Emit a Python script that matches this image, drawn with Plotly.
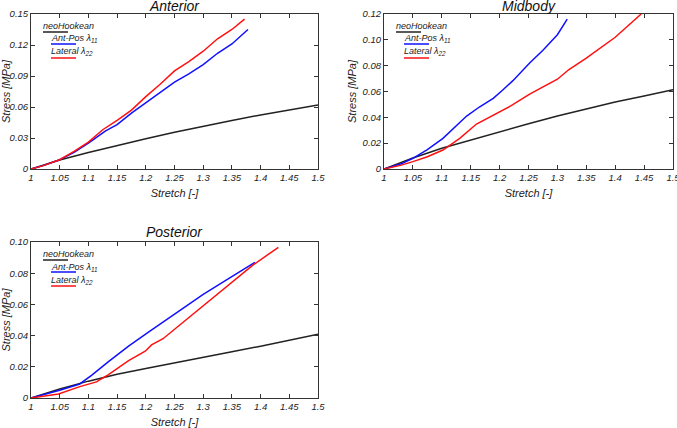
import plotly.graph_objects as go

# ---------------- data ----------------
# Anterior
ant_nh_x = [1.0, 1.05, 1.1, 1.15, 1.2, 1.25, 1.3, 1.35, 1.4, 1.45, 1.5]
ant_nh_y = [0.0, 0.0087, 0.016, 0.023, 0.0293, 0.0355, 0.0415, 0.047, 0.0523, 0.0573, 0.062]
ant_ap_x = [1.0, 1.02, 1.04, 1.05, 1.075, 1.1, 1.13, 1.15, 1.175, 1.2, 1.225, 1.25, 1.275, 1.3, 1.325, 1.35, 1.378]
ant_ap_y = [0.0, 0.003, 0.007, 0.009, 0.016, 0.025, 0.037, 0.043, 0.054, 0.064, 0.074, 0.084, 0.092, 0.101, 0.112, 0.121, 0.135]
ant_lat_x = [1.0, 1.02, 1.04, 1.05, 1.075, 1.1, 1.125, 1.15, 1.175, 1.2, 1.225, 1.25, 1.275, 1.3, 1.325, 1.35, 1.372]
ant_lat_y = [0.0, 0.003, 0.007, 0.009, 0.017, 0.026, 0.038, 0.047, 0.057, 0.07, 0.082, 0.095, 0.104, 0.114, 0.126, 0.135, 0.145]

# Midbody
mid_nh_x = [1.0, 1.05, 1.1, 1.15, 1.2, 1.25, 1.3, 1.35, 1.4, 1.45, 1.5]
mid_nh_y = [0.0, 0.0085, 0.016, 0.0225, 0.029, 0.035, 0.041, 0.0465, 0.0518, 0.0565, 0.0613]
mid_ap_x = [1.0, 1.03, 1.05, 1.075, 1.102, 1.125, 1.143, 1.165, 1.189, 1.205, 1.223, 1.252, 1.275, 1.3, 1.317]
mid_ap_y = [0.0, 0.004, 0.0083, 0.015, 0.0237, 0.033, 0.041, 0.048, 0.0547, 0.061, 0.0684, 0.082, 0.092, 0.104, 0.116]
mid_lat_x = [1.0, 1.03, 1.05, 1.075, 1.102, 1.131, 1.16, 1.189, 1.22, 1.252, 1.3, 1.32, 1.35, 1.4, 1.445]
mid_lat_y = [0.0, 0.003, 0.0057, 0.0095, 0.0147, 0.0237, 0.0348, 0.0418, 0.049, 0.058, 0.0695, 0.077, 0.0858, 0.102, 0.12]

# Posterior
pos_nh_x = [1.0, 1.05, 1.1, 1.15, 1.2, 1.25, 1.3, 1.35, 1.4, 1.45, 1.5]
pos_nh_y = [0.0, 0.0058, 0.0108, 0.0152, 0.0189, 0.0226, 0.0262, 0.0297, 0.0332, 0.0368, 0.0408]
pos_ap_x = [1.0, 1.05, 1.085, 1.106, 1.135, 1.17, 1.204, 1.251, 1.265, 1.3, 1.347, 1.39]
pos_ap_y = [0.0, 0.005, 0.009, 0.0147, 0.0233, 0.0333, 0.042, 0.054, 0.0575, 0.0665, 0.0771, 0.087]
pos_lat_x = [1.0, 1.048, 1.085, 1.114, 1.135, 1.17, 1.199, 1.21, 1.23, 1.259, 1.3, 1.347, 1.387, 1.431]
pos_lat_y = [0.0, 0.0026, 0.0073, 0.0103, 0.015, 0.024, 0.030, 0.034, 0.038, 0.0468, 0.059, 0.0735, 0.0853, 0.0966]

x_ticks = [1.0, 1.05, 1.1, 1.15, 1.2, 1.25, 1.3, 1.35, 1.4, 1.45, 1.5]
x_ticklabels = ["1", "1.05", "1.1", "1.15", "1.2", "1.25", "1.3", "1.35", "1.4", "1.45", "1.5"]
ant_yticks = [0, 0.03, 0.06, 0.09, 0.12, 0.15]
ant_yticklabels = ["0", "0.03", "0.06", "0.09", "0.12", "0.15"]
mid_yticks = [0, 0.02, 0.04, 0.06, 0.08, 0.10, 0.12]
mid_yticklabels = ["0", "0.02", "0.04", "0.06", "0.08", "0.10", "0.12"]
pos_yticks = [0, 0.02, 0.04, 0.06, 0.08, 0.10]
pos_yticklabels = ["0", "0.02", "0.04", "0.06", "0.08", "0.10"]

titles = ["Anterior", "Midbody", "Posterior"]
legend_labels = ["neoHookean", "Ant-Pos λ<sub>11</sub>", "Lateral λ<sub>22</sub>"]
colors = ["#222222", "#1010ff", "#ff1010"]

panels = [
    (titles[0], (ant_nh_x, ant_nh_y), (ant_ap_x, ant_ap_y), (ant_lat_x, ant_lat_y), ant_yticks, ant_yticklabels, 0.15),
    (titles[1], (mid_nh_x, mid_nh_y), (mid_ap_x, mid_ap_y), (mid_lat_x, mid_lat_y), mid_yticks, mid_yticklabels, 0.12),
    (titles[2], (pos_nh_x, pos_nh_y), (pos_ap_x, pos_ap_y), (pos_lat_x, pos_lat_y), pos_yticks, pos_yticklabels, 0.10),
]

W, H = 677, 428
# plot area pixel boxes (left, right, top, bottom) and title offset above the box
boxes = [(31, 318, 14, 169), (384, 673, 14, 169), (31, 318, 242, 398)]
title_gap = [8, 8, 10]
# legend entry offsets from the plot-area top-left corner: (text left, text centre y, line y)
leg_offsets = [(12, 12, 18), (20, 25, 30), (20, 38, 44)]

fig = go.Figure()
FONT = "Liberation Sans, Arial, sans-serif"

for i, (title, nh, ap, lat, yt, ytl, ymax) in enumerate(panels):
    n = i + 1
    xa = "x" if n == 1 else f"x{n}"
    ya = "y" if n == 1 else f"y{n}"
    for (xs, ys), c in zip([nh, ap, lat], colors):
        fig.add_trace(go.Scatter(x=xs, y=ys, mode="lines", line=dict(color=c, width=1.5),
                                 xaxis=xa, yaxis=ya, showlegend=False, hoverinfo="skip"))
    l, r, t, b = boxes[i]
    xkey = "xaxis" if n == 1 else f"xaxis{n}"
    ykey = "yaxis" if n == 1 else f"yaxis{n}"
    common = dict(showline=True, linecolor="#333", linewidth=1, mirror="ticks", ticks="inside",
                  ticklen=4, tickcolor="#333", showgrid=False, zeroline=False, automargin=False,
                  ticklabeloverflow="allow",
                  tickfont=dict(family=FONT, size=9.5, style="italic", color="#222"))
    fig.update_layout(**{
        xkey: dict(domain=[l / W, r / W], range=[1, 1.5], anchor=ya,
                   tickmode="array", tickvals=x_ticks, ticktext=x_ticklabels,
                   title=dict(text="Stretch [-]", standoff=6,
                              font=dict(family=FONT, size=11, style="italic", color="#222")),
                   **common),
        ykey: dict(domain=[1 - b / H, 1 - t / H], range=[0, ymax], anchor=xa,
                   tickmode="array", tickvals=yt, ticktext=ytl,
                   title=dict(text="Stress [MPa]", standoff=3,
                              font=dict(family=FONT, size=11, style="italic", color="#222")),
                   **common),
    })
    # panel title
    fig.add_annotation(text=title, xref=f"{xa} domain", yref=f"{ya} domain", x=0.5, y=1.0,
                       yanchor="middle", xanchor="center", showarrow=False, yshift=title_gap[i],
                       font=dict(family=FONT, size=14, style="italic", color="#111"))
    # legend (text with a coloured line underneath)
    pw, ph = r - l, b - t
    for (dx, dy, dly), lab, c in zip(leg_offsets, legend_labels, colors):
        fx = dx / pw
        fig.add_annotation(text=lab, xref=f"{xa} domain", yref=f"{ya} domain",
                           x=fx, y=1 - dy / ph, xanchor="left", yanchor="middle",
                           showarrow=False, xshift=-2,
                           font=dict(family=FONT, size=9, style="italic", color="#222"))
        fig.add_shape(type="line", xref=f"{xa} domain", yref=f"{ya} domain",
                      x0=fx, x1=fx + 25 / pw, y0=1 - dly / ph, y1=1 - dly / ph,
                      line=dict(color=c, width=1.5))

fig.update_layout(width=W, height=H, margin=dict(l=0, r=0, t=0, b=0),
                  paper_bgcolor="white", plot_bgcolor="white", showlegend=False)
fig.write_html("out.html", config={"displayModeBar": False},
               post_script="document.body.style.margin='0';document.body.style.overflow='hidden';")
